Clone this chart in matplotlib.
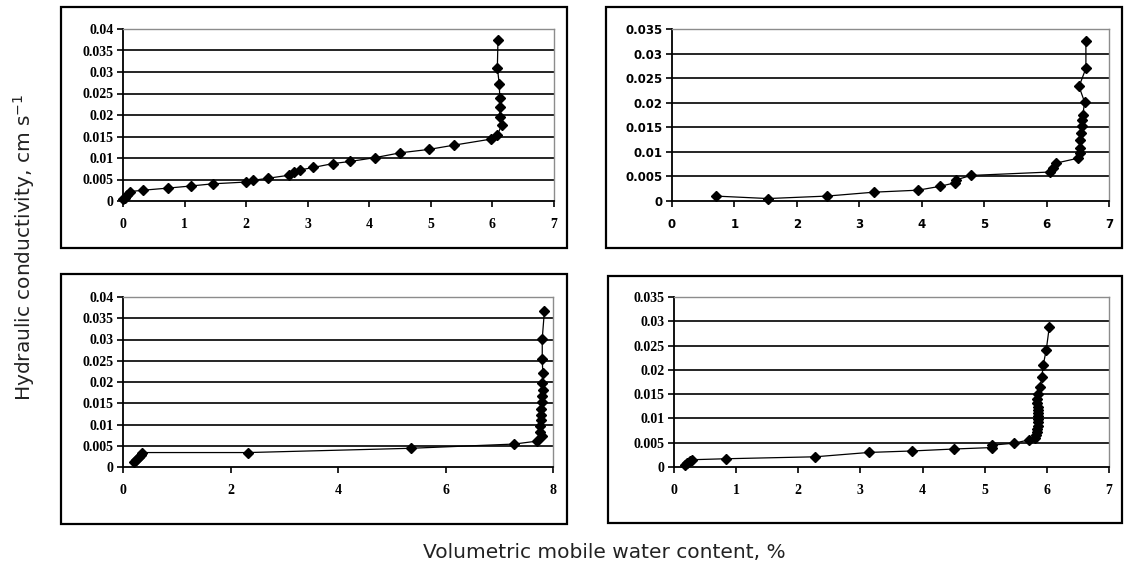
import matplotlib
matplotlib.use('Agg')
import matplotlib.pyplot as plt
from matplotlib.patches import Rectangle

# water content (%) and conductivity (cm/s)
theta_a = [0.0, 0.03, 0.06, 0.12, 0.32, 0.73, 1.11, 1.46, 1.99, 2.11, 2.36, 2.70, 2.77, 2.87, 3.09,
           3.41, 3.69, 4.10, 4.50, 4.97, 5.38, 5.98, 6.08, 6.15, 6.12, 6.12, 6.12, 6.11, 6.08, 6.09]
k_a = [0.0004, 0.0008, 0.0015, 0.0022, 0.0025, 0.0030, 0.0035, 0.0040, 0.0044, 0.0048, 0.0053, 0.0060,
       0.0068, 0.0072, 0.0078, 0.0087, 0.0092, 0.0101, 0.0112, 0.0120, 0.0130, 0.0144, 0.0153, 0.0177,
       0.0196, 0.0218, 0.0240, 0.0273, 0.0310, 0.0375]

theta_b = [0.70, 1.54, 2.48, 3.24, 3.94, 4.30, 4.53, 4.55, 4.79, 6.06, 6.10, 6.15, 6.50, 6.53, 6.53,
           6.54, 6.55, 6.56, 6.57, 6.58, 6.61, 6.52, 6.63, 6.63]
k_b = [0.0010, 0.0005, 0.0010, 0.0018, 0.0022, 0.0030, 0.0037, 0.0043, 0.0052, 0.0059, 0.0067, 0.0077,
       0.0087, 0.0097, 0.0108, 0.0124, 0.0138, 0.0152, 0.0165, 0.0175, 0.0201, 0.0233, 0.0270, 0.0325]

theta_c = [0.21, 0.25, 0.29, 0.33, 0.35, 2.33, 5.35, 7.28, 7.71, 7.80, 7.76, 7.76, 7.77, 7.77, 7.78,
           7.79, 7.80, 7.81, 7.80, 7.81, 7.80, 7.80, 7.84]
k_c = [0.0011, 0.0017, 0.0023, 0.0029, 0.0034, 0.0034, 0.0044, 0.0054, 0.0061, 0.0072, 0.0083, 0.0096,
       0.0110, 0.0123, 0.0137, 0.0152, 0.0168, 0.0182, 0.0198, 0.0222, 0.0253, 0.0302, 0.0367]

theta_d = [0.17, 0.21, 0.25, 0.29, 0.84, 2.27, 3.14, 3.83, 4.50, 5.11, 5.12, 5.47, 5.72, 5.81, 5.83,
           5.84, 5.84, 5.85, 5.85, 5.85, 5.85, 5.85, 5.85, 5.85, 5.84, 5.84, 5.86, 5.89, 5.92, 5.94,
           5.99, 6.04]
k_d = [0.0004, 0.0008, 0.0012, 0.0015, 0.0017, 0.0021, 0.0030, 0.0033, 0.0037, 0.0040, 0.0045, 0.0049,
       0.0056, 0.0060, 0.0065, 0.0072, 0.0078, 0.0085, 0.0092, 0.0098, 0.0105, 0.0111, 0.0118, 0.0124,
       0.0131, 0.0140, 0.0150, 0.0165, 0.0185, 0.0209, 0.0241, 0.0289]

yticks_04 = [0, 0.005, 0.01, 0.015, 0.02, 0.025, 0.03, 0.035, 0.04]
yticks_035 = [0, 0.005, 0.01, 0.015, 0.02, 0.025, 0.03, 0.035]
xticks_7 = [0, 1, 2, 3, 4, 5, 6, 7]
xticks_8 = [0, 2, 4, 6, 8]

W, H = 1131, 570
fig = plt.figure(figsize=(W / 100, H / 100), dpi=100)


def px_axes(left, right, top, bottom):
    return fig.add_axes([left / W, 1 - bottom / H, (right - left) / W, (bottom - top) / H])


def box(left, right, top, bottom):
    fig.patches.append(Rectangle((left / W, 1 - bottom / H), (right - left) / W, (bottom - top) / H,
                                 transform=fig.transFigure, fill=False, edgecolor='black', lw=1.6))


def panel(ax, x, y, xticks, yticks, font):
    ax.set_xlim(xticks[0], xticks[-1])
    ax.set_ylim(yticks[0], yticks[-1])
    for t in yticks[1:-1]:
        ax.axhline(t, color='black', lw=1.2, zorder=1)
    ax.plot(x, y, color='black', lw=0.9, marker='D', markersize=5.5, zorder=3, clip_on=False)
    ax.set_xticks(xticks)
    ax.set_yticks(yticks)
    ax.set_xticklabels([str(t) for t in xticks])
    ax.set_yticklabels(['%g' % t for t in yticks])
    ax.tick_params(direction='out', length=4, width=1.2, color='black', pad=3)
    for lab in ax.get_xticklabels() + ax.get_yticklabels():
        lab.set_fontfamily(font[0])
        lab.set_fontweight('bold')
        lab.set_fontsize(font[1])
    ax.tick_params(axis='x', pad=8)
    for s in ['top', 'right']:
        ax.spines[s].set_color('#8c8c8c')
        ax.spines[s].set_linewidth(1.0)
    for s in ['left', 'bottom']:
        ax.spines[s].set_color('black')
        ax.spines[s].set_linewidth(1.3)


serif = ('Liberation Serif', 10)
pixel = ('DejaVu Sans', 8.5)

box(61, 567, 7, 248)
box(606, 1122, 7, 248)
box(61, 567, 274, 524)
box(608, 1122, 276, 523)

ax1 = px_axes(123, 554, 29, 201)
panel(ax1, theta_a, k_a, xticks_7, yticks_04, serif)
ax2 = px_axes(672, 1109, 29, 201)
panel(ax2, theta_b, k_b, xticks_7, yticks_035, pixel)
ax3 = px_axes(123, 553, 297, 467)
panel(ax3, theta_c, k_c, xticks_8, yticks_04, serif)
ax4 = px_axes(674, 1109, 297, 467)
panel(ax4, theta_d, k_d, xticks_7, yticks_035, serif)

fig.text(24 / W, 1 - 247 / H, 'Hydraulic conductivity, cm s$^{-1}$', rotation=90,
         ha='center', va='center', fontsize=14.5, color='#222222')
fig.text(604 / W, 1 - 553 / H, 'Volumetric mobile water content, %',
         ha='center', va='center', fontsize=14.5, color='#222222')

fig.savefig('out.png', dpi=100)
